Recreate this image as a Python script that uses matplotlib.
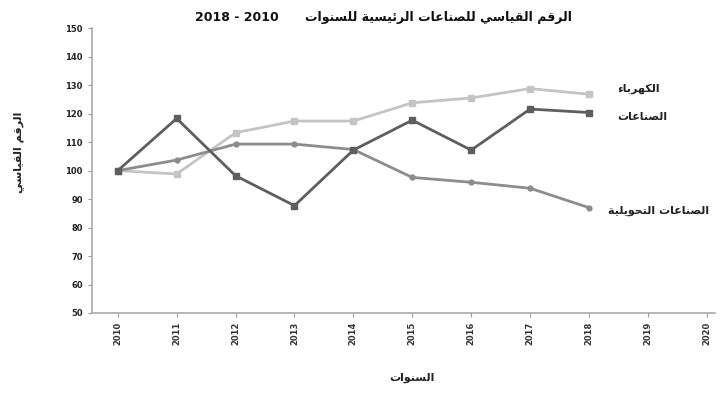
import matplotlib
matplotlib.use("Agg")
import matplotlib.pyplot as plt

# index numbers of main industries, 2010 = 100
years = [2010, 2011, 2012, 2013, 2014, 2015, 2016, 2017, 2018]
electricity = [100, 98.8, 113.3, 117.4, 117.4, 123.8, 125.5, 128.8, 126.8]
industries = [100, 118.3, 98.2, 87.7, 107.2, 117.7, 107.2, 121.6, 120.4]
manufacturing = [100, 103.7, 109.3, 109.3, 107.4, 97.6, 95.9, 93.8, 87.0]
tick_years = list(range(2010, 2021))
y_ticks = list(range(50, 151, 10))

title_ar = "الرقم القياسي للصناعات الرئيسية للسنوات"
title_years = "2018 - 2010"
ylabel_ar = "الرقم القياسي"
xlabel_ar = "السنوات"
lbl_elec = "الكهرباء"
lbl_ind = "الصناعات"
lbl_manu = "الصناعات التحويلية"

# arabic shaping by hand (matplotlib has no RTL layout)
FORMS = {
    'ا': (0xFE8D, 0xFE8E, None, None),
    'ب': (0xFE8F, 0xFE90, 0xFE91, 0xFE92),
    'ة': (0xFE93, 0xFE94, None, None),
    'ت': (0xFE95, 0xFE96, 0xFE97, 0xFE98),
    'ح': (0xFEA1, 0xFEA2, 0xFEA3, 0xFEA4),
    'ر': (0xFEAD, 0xFEAE, None, None),
    'س': (0xFEB1, 0xFEB2, 0xFEB3, 0xFEB4),
    'ص': (0xFEB9, 0xFEBA, 0xFEBB, 0xFEBC),
    'ط': (0xFEC1, 0xFEC2, 0xFEC3, 0xFEC4),
    'ع': (0xFEC9, 0xFECA, 0xFECB, 0xFECC),
    'ق': (0xFED5, 0xFED6, 0xFED7, 0xFED8),
    'ك': (0xFED9, 0xFEDA, 0xFEDB, 0xFEDC),
    'ل': (0xFEDD, 0xFEDE, 0xFEDF, 0xFEE0),
    'م': (0xFEE1, 0xFEE2, 0xFEE3, 0xFEE4),
    'ن': (0xFEE5, 0xFEE6, 0xFEE7, 0xFEE8),
    'ه': (0xFEE9, 0xFEEA, 0xFEEB, 0xFEEC),
    'و': (0xFEED, 0xFEEE, None, None),
    'ي': (0xFEF1, 0xFEF2, 0xFEF3, 0xFEF4),
    'ئ': (0xFE89, 0xFE8A, 0xFE8B, 0xFE8C),
    'ء': (0xFE80, None, None, None),
}


def joins_next(c):
    return c in FORMS and FORMS[c][2] is not None


def joins_prev(c):
    return c in FORMS and FORMS[c][1] is not None


def ar(s):
    out = []
    for i, c in enumerate(s):
        if c not in FORMS:
            out.append(c)
            continue
        prev = s[i - 1] if i > 0 else ''
        nxt = s[i + 1] if i + 1 < len(s) else ''
        p = joins_next(prev) and joins_prev(c)
        n = joins_next(c) and joins_prev(nxt)
        iso, fin, ini, med = FORMS[c]
        if p and n:
            f = med
        elif p:
            f = fin
        elif n:
            f = ini
        else:
            f = iso
        out.append(chr(f))
    return ''.join(out)[::-1]


plt.rcParams['font.family'] = ['DejaVu Sans']

fig = plt.figure(figsize=(7.23, 4.0), dpi=100)
ax = fig.add_axes([0.127, 0.2175, 0.862, 0.712])

ax.plot(years, electricity, color='#c4c4c4', lw=2, marker='s', ms=4)
ax.plot(years, manufacturing, color='#8c8c8c', lw=2, marker='o', ms=3.5)
ax.plot(years, industries, color='#5e5e5e', lw=2, marker='s', ms=4.5)

ax.set_xlim(2009.56, 2020.14)
ax.set_ylim(50, 150)
ax.set_xticks(tick_years)
ax.set_xticklabels([str(y) for y in tick_years], rotation=90, fontsize=6,
                   fontweight='bold', color='#333333')
ax.set_yticks(y_ticks)
ax.set_yticklabels([str(v) for v in y_ticks], fontsize=6, fontweight='bold',
                   color='#222222')
ax.tick_params(length=3, color='#999999', width=0.8)

for s in ['top', 'right']:
    ax.spines[s].set_visible(False)
for s in ['left', 'bottom']:
    ax.spines[s].set_color('#aaaaaa')
    ax.spines[s].set_linewidth(1.2)

lab = dict(fontsize=8, fontweight='bold', ha='left', va='center',
           color='#222222', textcoords='offset points')
ax.annotate(ar(lbl_elec), (years[-1], electricity[-1]), xytext=(20, 4), **lab)
ax.annotate(ar(lbl_ind), (years[-1], industries[-1]), xytext=(20, -3.5), **lab)
ax.annotate(ar(lbl_manu), (years[-1], manufacturing[-1]), xytext=(14, -2), **lab)

fig.text(0.53, 0.955, title_years + "      " + ar(title_ar), ha='center',
         va='center', fontsize=9, fontweight='bold', color='#111111')
fig.text(0.025, 0.62, ar(ylabel_ar), rotation=90, ha='center', va='center',
         fontsize=8, fontweight='bold', color='#222222')
fig.text(0.57, 0.055, ar(xlabel_ar), ha='center', va='center',
         fontsize=8, fontweight='bold', color='#222222')

fig.savefig('out.png', dpi=100)
